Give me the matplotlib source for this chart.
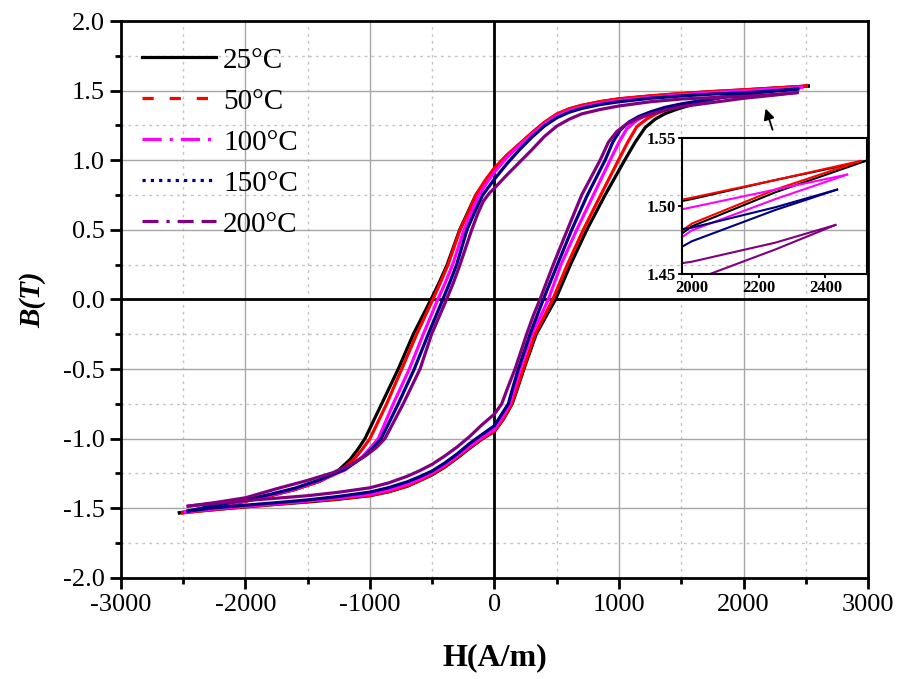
import matplotlib
matplotlib.use("Agg")
import matplotlib.pyplot as plt
from matplotlib.lines import Line2D
from matplotlib.ticker import MultipleLocator

plt.rcParams["font.family"] = ["Liberation Serif", "DejaVu Serif"]
plt.rcParams["axes.unicode_minus"] = False

# --- data: descending (upper) and ascending (lower) branches ---
labels = ["25°C", "50°C", "100°C", "150°C", "200°C"]
colors = ["#000000", "#ff0000", "#ff00ff", "#000080", "#800080"]

h_25_down = [2520, 2250, 2000, 1750, 1500, 1250, 1000, 850, 700, 600, 500, 400, 300, 200, 100, 0,
             -75, -150, -215, -280, -380, -445, -510, -652, -773, -906, -1040, -1100, -1160, -1268,
             -1400, -1600, -1800, -2000, -2250, -2530]
b_25_down = [1.533, 1.519, 1.505, 1.493, 1.478, 1.461, 1.44, 1.42, 1.393, 1.368, 1.33, 1.27, 1.195, 1.115, 1.035, 0.94,
             0.85, 0.75, 0.625, 0.5, 0.25, 0.12, 0.0, -0.25, -0.5, -0.75, -1.0, -1.08, -1.15, -1.24,
             -1.305, -1.365, -1.41, -1.45, -1.49, -1.533]
h_25_up = [-2530, -2250, -2000, -1750, -1500, -1250, -1000, -850, -700, -600, -500, -400, -300, -200, -100, 0,
           72, 142, 190, 236, 335, 415, 490, 610, 741, 888, 1045, 1130, 1210, 1290, 1370, 1460, 1550, 1650,
           1750, 2000, 2250, 2520]
b_25_up = [-1.533, -1.51, -1.49, -1.472, -1.455, -1.435, -1.41, -1.382, -1.342, -1.302, -1.26, -1.205, -1.14, -1.07, -1.003, -0.948,
           -0.86, -0.75, -0.625, -0.5, -0.25, -0.12, 0.0, 0.25, 0.5, 0.75, 1.0, 1.13, 1.235, 1.295, 1.335, 1.365, 1.39, 1.418,
           1.44, 1.485, 1.51, 1.533]

h_50_down = [2505, 2250, 2000, 1750, 1500, 1250, 1000, 850, 700, 600, 500, 400, 300, 200, 100, 0,
             -75, -149, -210, -277, -373, -435, -495, -625, -745, -866, -1000, -1065, -1130, -1250,
             -1400, -1600, -1800, -2000, -2250, -2505]
b_50_down = [1.533, 1.519, 1.506, 1.494, 1.48, 1.463, 1.442, 1.422, 1.395, 1.37, 1.332, 1.272, 1.197, 1.117, 1.037, 0.945,
             0.855, 0.75, 0.625, 0.5, 0.25, 0.12, 0.0, -0.25, -0.5, -0.75, -1.0, -1.08, -1.15, -1.24,
             -1.305, -1.365, -1.41, -1.45, -1.49, -1.533]
h_50_up = [-2505, -2250, -2000, -1750, -1500, -1250, -1000, -850, -700, -600, -500, -400, -300, -200, -100, 0,
           70, 138, 185, 231, 325, 400, 468, 585, 713, 853, 995, 1070, 1142, 1220, 1300, 1400, 1500, 1625,
           1750, 2000, 2250, 2505]
b_50_up = [-1.533, -1.51, -1.49, -1.472, -1.452, -1.432, -1.408, -1.38, -1.34, -1.30, -1.256, -1.20, -1.135, -1.065, -1.0, -0.945,
           -0.86, -0.75, -0.625, -0.5, -0.25, -0.12, 0.0, 0.25, 0.5, 0.75, 1.0, 1.13, 1.24, 1.295, 1.335, 1.368, 1.395, 1.42,
           1.442, 1.487, 1.512, 1.533]

h_100_down = [2465, 2250, 2000, 1750, 1500, 1250, 1000, 850, 700, 600, 500, 400, 300, 200, 100, 0,
              -60, -124, -185, -245, -336, -395, -455, -572, -684, -813, -933, -1000, -1060, -1200,
              -1400, -1600, -1800, -2000, -2250, -2480]
b_100_down = [1.523, 1.512, 1.499, 1.486, 1.47, 1.452, 1.43, 1.41, 1.383, 1.357, 1.32, 1.26, 1.185, 1.105, 1.02, 0.915,
              0.84, 0.75, 0.625, 0.5, 0.25, 0.12, 0.0, -0.25, -0.5, -0.75, -1.0, -1.07, -1.13, -1.225,
              -1.30, -1.36, -1.405, -1.445, -1.485, -1.525]
h_100_up = [-2480, -2250, -2000, -1750, -1500, -1250, -1000, -850, -700, -600, -500, -400, -300, -200, -100, 0,
            60, 124, 165, 205, 299, 370, 432, 534, 660, 794, 928, 1000, 1062, 1140, 1220, 1320, 1420, 1550,
            1750, 2000, 2250, 2465]
b_100_up = [-1.525, -1.505, -1.485, -1.467, -1.447, -1.425, -1.40, -1.37, -1.328, -1.29, -1.245, -1.19, -1.125, -1.055, -0.99, -0.932,
            -0.85, -0.75, -0.625, -0.5, -0.25, -0.12, 0.0, 0.25, 0.5, 0.75, 1.0, 1.13, 1.225, 1.285, 1.325, 1.36, 1.385, 1.41,
            1.44, 1.482, 1.505, 1.523]

h_150_down = [2435, 2250, 2000, 1750, 1500, 1250, 1000, 850, 700, 600, 500, 400, 300, 200, 100, 0,
              -45, -95, -160, -221, -304, -360, -415, -532, -644, -773, -910, -980, -1050, -1200,
              -1400, -1600, -1800, -2000, -2250, -2460]
b_150_down = [1.512, 1.499, 1.484, 1.475, 1.462, 1.445, 1.42, 1.40, 1.372, 1.345, 1.305, 1.245, 1.165, 1.075, 0.975, 0.865,
              0.81, 0.75, 0.625, 0.5, 0.25, 0.12, 0.0, -0.25, -0.5, -0.75, -1.0, -1.07, -1.13, -1.22,
              -1.295, -1.355, -1.40, -1.44, -1.48, -1.52]
h_150_up = [-2460, -2250, -2000, -1750, -1500, -1250, -1000, -850, -700, -600, -500, -400, -300, -200, -100, 0,
            50, 111, 150, 191, 285, 340, 392, 505, 620, 746, 888, 950, 1008, 1080, 1160, 1260, 1370, 1500,
            1750, 2000, 2250, 2435]
b_150_up = [-1.52, -1.497, -1.478, -1.46, -1.44, -1.415, -1.384, -1.352, -1.31, -1.273, -1.232, -1.175, -1.11, -1.035, -0.97, -0.907,
            -0.835, -0.75, -0.625, -0.5, -0.25, -0.12, 0.0, 0.25, 0.5, 0.75, 1.0, 1.13, 1.215, 1.275, 1.315, 1.35, 1.38, 1.405,
            1.44, 1.474, 1.497, 1.512]

h_200_down = [2430, 2250, 2000, 1750, 1500, 1250, 1000, 850, 700, 600, 500, 400, 300, 200, 100, 0,
              -40, -90, -135, -183, -277, -330, -385, -505, -598, -733, -880, -950, -1030, -1150,
              -1300, -1500, -1750, -2000, -2250, -2460]
b_200_down = [1.486, 1.473, 1.459, 1.45, 1.44, 1.42, 1.39, 1.365, 1.333, 1.295, 1.245, 1.17, 1.075, 0.985, 0.895, 0.80,
              0.765, 0.705, 0.615, 0.5, 0.25, 0.12, 0.0, -0.25, -0.5, -0.75, -1.0, -1.065, -1.12, -1.185,
              -1.245, -1.30, -1.36, -1.425, -1.46, -1.485]
h_200_up = [-2460, -2250, -2000, -1750, -1500, -1250, -1000, -850, -700, -600, -500, -400, -300, -200, -100, 0,
            58, 110, 165, 258, 310, 365, 472, 585, 700, 848, 915, 981, 1060, 1150, 1250, 1370, 1500,
            1750, 2000, 2250, 2430]
b_200_up = [-1.485, -1.465, -1.445, -1.428, -1.41, -1.385, -1.353, -1.318, -1.27, -1.23, -1.184, -1.125, -1.06, -0.985, -0.9, -0.823,
            -0.75, -0.625, -0.5, -0.25, -0.12, 0.0, 0.25, 0.5, 0.75, 1.0, 1.13, 1.205, 1.26, 1.30, 1.33, 1.36, 1.385,
            1.415, 1.445, 1.468, 1.486]

loops = [
    (h_25_down, b_25_down, h_25_up, b_25_up),
    (h_50_down, b_50_down, h_50_up, b_50_up),
    (h_100_down, b_100_down, h_100_up, b_100_up),
    (h_150_down, b_150_down, h_150_up, b_150_up),
    (h_200_down, b_200_down, h_200_up, b_200_up),
]
legend_styles = ["-", (0, (3.5, 5)), (0, (6, 2.5, 1, 2.5)), (0, (1, 1.6)), (0, (5, 2.5, 1, 2.5, 5, 2.5))]

fig = plt.figure(figsize=(9.09, 6.79), dpi=100)
ax = fig.add_axes([0.133, 0.149, 0.822, 0.820])

ax.set_xlim(-3000, 3000)
ax.set_ylim(-2.0, 2.0)
ax.xaxis.set_major_locator(MultipleLocator(1000))
ax.xaxis.set_minor_locator(MultipleLocator(500))
ax.yaxis.set_major_locator(MultipleLocator(0.5))
ax.yaxis.set_minor_locator(MultipleLocator(0.25))
ax.set_yticklabels([f"{v:.1f}" for v in ax.get_yticks()])
ax.grid(which="major", color="#a6a6a6", lw=1.0, ls="-")
ax.grid(which="minor", color="#c4c4c4", lw=1.0, ls=(0, (2, 3)))
ax.set_axisbelow(True)
ax.tick_params(which="major", direction="out", length=8, width=2, labelsize=19, top=False, right=False)
ax.tick_params(which="minor", direction="out", length=4.5, width=2, top=False, right=False)
for side in ax.spines.values():
    side.set_linewidth(2)

ax.axhline(0, color="black", lw=2, zorder=1.5)
ax.axvline(0, color="black", lw=2, zorder=1.5)

for (hd, bd, hu, bu), c in zip(loops, colors):
    ax.plot(hd, bd, color=c, lw=2.3, solid_joinstyle="round")
    ax.plot(hu, bu, color=c, lw=2.3, solid_joinstyle="round")

ax.set_xlabel("H(A/m)", fontsize=23, fontweight="bold", labelpad=20)
ax.set_ylabel("B(T)", fontsize=21, fontweight="bold", fontstyle="italic", labelpad=12)

handles = [Line2D([0], [0], color=c, lw=2.3, ls=s) for c, s in zip(colors, legend_styles)]
ax.legend(handles, labels, loc="upper left", bbox_to_anchor=(0.012, 0.974), frameon=False,
          fontsize=21, handlelength=2.55, handletextpad=0.25, labelspacing=0.5, borderaxespad=0)

ax.annotate("", xy=(2170, 1.39), xytext=(2240, 1.20),
            arrowprops=dict(arrowstyle="-|>", color="black", lw=1.3, mutation_scale=16))

# inset: zoom on the positive saturation tips
axin = fig.add_axes([0.750, 0.5965, 0.204, 0.2005])
axin.patch.set_alpha(0)
for (hd, bd, hu, bu), c in zip(loops, colors):
    axin.plot(hd, bd, color=c, lw=1.5)
    axin.plot(hu, bu, color=c, lw=1.5)
axin.set_xlim(1970, 2525)
axin.set_ylim(1.45, 1.55)
axin.set_xticks([2000, 2200, 2400])
axin.set_yticks([1.45, 1.50, 1.55])
axin.set_yticklabels(["1.45", "1.50", "1.55"])
axin.tick_params(direction="out", length=3, width=1.3, labelsize=12, pad=1, top=False, right=False)
for t in axin.get_xticklabels() + axin.get_yticklabels():
    t.set_fontweight("bold")
for side in axin.spines.values():
    side.set_linewidth(1.5)

fig.savefig("out.png", dpi=100)
